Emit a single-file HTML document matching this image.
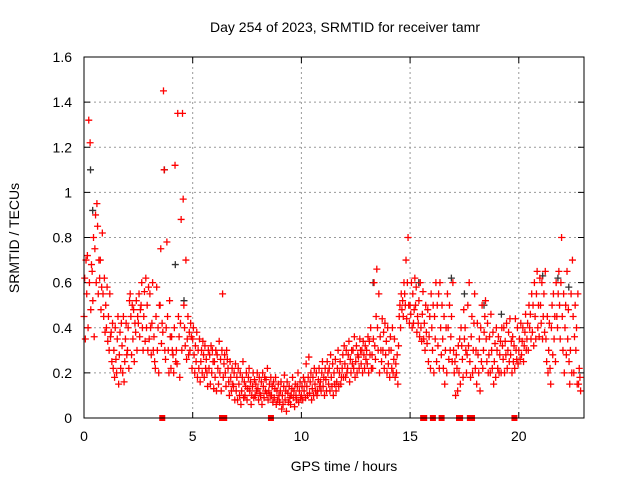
<!DOCTYPE html>
<html><head><meta charset="utf-8"><style>
body{margin:0;background:#fff}
svg text{font-family:"Liberation Sans",sans-serif;font-size:14px;fill:#000}
</style></head><body>
<svg id="chart" width="640" height="480" xmlns="http://www.w3.org/2000/svg">
<text x="345" y="32" text-anchor="middle">Day 254 of 2023, SRMTID for receiver tamr</text>
<text x="344" y="471" text-anchor="middle">GPS time / hours</text>
<text transform="translate(19,238) rotate(-90)" text-anchor="middle">SRMTID / TECUs</text>
<g id="grid"></g><g id="ticks"></g><g id="marks"></g>
<rect x="84" y="57" width="500" height="361" fill="none" stroke="#000" stroke-width="1"/>
</svg>
<script>
const xTicks=[0,5,10,15,20];
const yTicks=[0,0.2,0.4,0.6,0.8,1,1.2,1.4,1.6];
const yTickLabels=["0","0.2","0.4","0.6","0.8","1","1.2","1.4","1.6"];
const epochStart=0, epochStep=0.125;
const redValues=[
[0.45,0.62,0.35,0.7],[0.55,0.72,0.4,1.32],[0.6,1.22,0.48,0.68],[0.65,0.52,0.8,0.36],[0.75,0.9,0.6,0.95],[0.85,0.55,0.7,0.62],[0.7,0.48,0.58,0.82],[0.55,0.45,0.62,0.38],
[0.5,0.4,0.58,0.34],[0.45,0.3,0.55,0.36],[0.38,0.25,0.42,0.22],[0.3,0.18,0.4,0.26],[0.2,0.35,0.45,0.15],[0.28,0.38,0.22,0.42],[0.32,0.2,0.45,0.16],[0.25,0.35,0.42,0.28],
[0.3,0.4,0.22,0.52],[0.55,0.45,0.28,0.5],[0.35,0.48,0.25,0.42],[0.38,0.52,0.3,0.45],[0.42,0.55,0.36,0.48],[0.5,0.6,0.4,0.3],[0.45,0.56,0.34,0.62],[0.4,0.5,0.3,0.58],
[0.35,0.55,0.4,0.28],[0.42,0.6,0.3,0.36],[0.25,0.22,0.45,0.58],[0.3,0.4,0.2,0.5],[0.5,0.75,0.33,0.42],[0.38,1.45,1.1,0.3],[0.26,0.4,0.78,0.45],[0.3,0.2,0.52,0.36],
[0.22,0.36,0.3,0.28],[0.2,0.4,1.12,0.25],[0.3,0.24,1.35,0.45],[0.36,0.18,0.42,0.88],[0.3,1.35,0.97,0.5],[0.4,0.32,0.7,0.26],[0.35,0.45,0.28,0.38],[0.3,0.42,0.36,0.22],
[0.35,0.4,0.28,0.2],[0.32,0.25,0.38,0.18],[0.3,0.22,0.35,0.16],[0.25,0.3,0.2,0.34],[0.28,0.18,0.32,0.22],[0.26,0.2,0.14,0.3],[0.22,0.28,0.15,0.32],[0.2,0.3,0.25,0.13],
[0.25,0.18,0.3,0.12],[0.28,0.22,0.15,0.34],[0.2,0.26,0.12,0.3],[0.55,0.18,0.24,0.28],[0.2,0.14,0.3,0.26],[0.22,0.16,0.1,0.25],[0.18,0.12,0.22,0.15],[0.14,0.2,0.08,0.24],
[0.12,0.18,0.08,0.22],[0.15,0.1,0.2,0.06],[0.12,0.18,0.25,0.09],[0.16,0.1,0.14,0.2],[0.08,0.13,0.18,0.22],[0.12,0.16,0.06,0.1],[0.14,0.2,0.09,0.17],[0.1,0.15,0.12,0.2],
[0.13,0.08,0.18,0.11],[0.1,0.16,0.06,0.2],[0.14,0.09,0.18,0.12],[0.17,0.11,0.22,0.08],[0.12,0.15,0.1,0.18],[0.1,0.14,0.07,0.16],[0.09,0.13,0.18,0.06],[0.12,0.08,0.15,0.1],
[0.07,0.12,0.16,0.04],[0.1,0.06,0.14,0.19],[0.08,0.12,0.03,0.16],[0.11,0.07,0.14,0.09],[0.06,0.1,0.13,0.18],[0.09,0.12,0.05,0.15],[0.1,0.08,0.14,0.2],[0.07,0.12,0.16,0.09],
[0.1,0.14,0.08,0.18],[0.12,0.16,0.09,0.24],[0.14,0.1,0.18,0.27],[0.11,0.16,0.2,0.08],[0.13,0.18,0.1,0.22],[0.15,0.12,0.2,0.1],[0.12,0.17,0.22,0.14],[0.16,0.12,0.2,0.25],
[0.14,0.18,0.1,0.22],[0.17,0.12,0.25,0.2],[0.15,0.22,0.12,0.28],[0.18,0.14,0.24,0.1],[0.2,0.15,0.26,0.12],[0.16,0.22,0.3,0.14],[0.2,0.25,0.15,0.18],[0.22,0.28,0.18,0.32],
[0.24,0.18,0.3,0.2],[0.22,0.28,0.34,0.16],[0.26,0.2,0.3,0.24],[0.3,0.22,0.36,0.18],[0.25,0.32,0.2,0.28],[0.27,0.22,0.35,0.3],[0.24,0.3,0.2,0.34],[0.28,0.22,0.32,0.26],
[0.3,0.24,0.36,0.2],[0.34,0.28,0.4,0.22],[0.28,0.22,0.35,0.6],[0.32,0.26,0.45,0.66],[0.4,0.3,0.55,0.2],[0.36,0.3,0.25,0.44],[0.3,0.38,0.22,0.42],[0.28,0.34,0.2,0.4],
[0.24,0.3,0.18,0.36],[0.3,0.22,0.4,0.2],[0.26,0.35,0.18,0.24],[0.2,0.28,0.15,0.32],[0.45,0.5,0.4,0.55],[0.48,0.52,0.45,0.6],[0.55,0.5,0.7,0.44],[0.6,0.8,0.5,0.42],
[0.5,0.46,0.6,0.4],[0.55,0.42,0.48,0.62],[0.5,0.58,0.38,0.45],[0.42,0.52,0.36,0.6],[0.4,0.34,0.46,0.56],[0.35,0.42,0.3,0.5],[0.38,0.33,0.48,0.25],[0.36,0.45,0.22,0.55],
[0.4,0.3,0.5,0.2],[0.45,0.35,0.6,0.25],[0.5,0.32,0.55,0.22],[0.6,0.4,0.28,0.5],[0.35,0.22,0.45,0.15],[0.3,0.4,0.2,0.55],[0.4,0.26,0.5,0.3],[0.36,0.45,0.25,0.6],
[0.3,0.2,0.25,0.1],[0.28,0.22,0.12,0.32],[0.2,0.35,0.15,0.4],[0.32,0.26,0.18,0.48],[0.35,0.4,0.3,0.2],[0.28,0.5,0.32,0.6],[0.25,0.18,0.36,0.45],[0.2,0.3,0.42,0.55],
[0.22,0.3,0.15,0.42],[0.28,0.2,0.35,0.12],[0.4,0.25,0.5,0.22],[0.3,0.38,0.45,0.52],[0.35,0.25,0.42,0.2],[0.28,0.36,0.2,0.46],[0.3,0.22,0.38,0.15],[0.25,0.33,0.18,0.4],
[0.3,0.22,0.36,0.2],[0.28,0.34,0.2,0.4],[0.32,0.26,0.4,0.2],[0.34,0.28,0.42,0.22],[0.3,0.38,0.25,0.44],[0.28,0.34,0.2,0.36],[0.25,0.32,0.22,0.44],[0.3,0.26,0.4,0.24],
[0.3,0.35,0.26,0.42],[0.28,0.34,0.4,0.25],[0.32,0.38,0.46,0.3],[0.35,0.42,0.3,0.5],[0.4,0.46,0.35,0.55],[0.38,0.5,0.32,0.6],[0.45,0.35,0.55,0.65],[0.4,0.5,0.36,0.62],
[0.5,0.42,0.6,0.35],[0.45,0.55,0.38,0.65],[0.35,0.25,0.45,0.2],[0.3,0.42,0.22,0.15],[0.4,0.5,0.28,0.55],[0.35,0.45,0.25,0.6],[0.45,0.4,0.55,0.65],[0.5,0.35,0.6,0.8],
[0.45,0.3,0.55,0.2],[0.4,0.5,0.28,0.65],[0.35,0.48,0.25,0.15],[0.3,0.55,0.2,0.7],[0.45,0.2,0.36,0.5],[0.3,0.4,0.15,0.55],[0.15,0.22,0.18,0.12]];
const zeroHours=[3.6,6.35,6.45,8.6,15.6,15.65,16.05,16.45,17.25,17.3,17.75,17.85,19.8];
const grayHours=[0.3,0.4,3.7,4.2,4.6,13.3,15.4,16.9,17.5,18.4,19.2,21.1,21.8,22.3];
const grayValues=[1.1,0.92,1.1,0.68,0.52,0.6,0.6,0.62,0.55,0.5,0.46,0.63,0.62,0.58];

const X0=84,X1=584,Y0=418,Y1=57,XMAX=23,YMAX=1.6;
const xs=h=>X0+(h/XMAX)*(X1-X0);
const ys=v=>Y0-(v/YMAX)*(Y0-Y1);
const NS="http://www.w3.org/2000/svg";
const grid=document.getElementById('grid'),ticks=document.getElementById('ticks'),marks=document.getElementById('marks');
function mk(tag,attrs,parent){const e=document.createElementNS(NS,tag);for(const k in attrs)e.setAttribute(k,attrs[k]);parent.appendChild(e);return e;}
xTicks.forEach((t,i)=>{
  const x=xs(t);
  if(t>0){const g=mk('line',{x1:x,x2:x,y1:Y1,y2:Y0,stroke:'#999','stroke-dasharray':'2,3'},grid);
  
  }
  mk('line',{x1:x,x2:x,y1:Y0,y2:Y0-6,stroke:'#000'},ticks);
  mk('line',{x1:x,x2:x,y1:Y1,y2:Y1+6,stroke:'#000'},ticks);
  const l=mk('text',{x:x,y:Y0+23,'text-anchor':'middle'},ticks);l.textContent=String(t);
  
  
});
yTicks.forEach((t,i)=>{
  const y=ys(t);
  if(t>0&&t<YMAX){const g=mk('line',{x1:X0,x2:X1,y1:y,y2:y,stroke:'#999','stroke-dasharray':'2,3'},grid);
  
  }
  mk('line',{x1:X0,x2:X0+6,y1:y,y2:y,stroke:'#000'},ticks);
  mk('line',{x1:X1,x2:X1-6,y1:y,y2:y,stroke:'#000'},ticks);
  const l=mk('text',{x:72,y:y+5,'text-anchor':'end'},ticks);l.textContent=yTickLabels[i];
  
  
});
function cross(x,y,color){
  return mk('path',{d:`M${x-3.5},${y}h7M${x},${y-3.5}v7`,stroke:color,'stroke-width':1.3,fill:'none'},marks);
}
grayHours.forEach((h,i)=>{
  const p=cross(xs(h),ys(grayValues[i]),'#333');
  
  
});
redValues.forEach((vals,i)=>{
  const h=epochStart+i*epochStep;
  vals.forEach((v,j)=>{
    const p=cross(xs(h+j*epochStep/4),ys(v),'#f00');
    
    
  });
});
zeroHours.forEach(h=>{
  const p=mk('rect',{x:xs(h)-3,y:Y0-3,width:6,height:6,fill:'#f00'},marks);
  
  
});
</script>
</body></html>
